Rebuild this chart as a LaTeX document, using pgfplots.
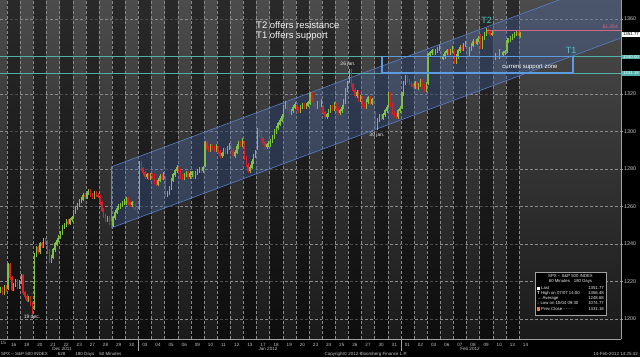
\documentclass[border=0pt]{standalone}
\usepackage{pgfplots}
\pgfplotsset{compat=1.18}
\usepackage{pgfplotstable}
\usepackage{fontspec}
\setmainfont{Liberation Sans}
\definecolor{upc}{HTML}{7DC242}
\definecolor{dnc}{HTML}{D9202A}
\definecolor{teal1}{HTML}{4FB0AC}
\definecolor{tealtxt}{HTML}{4FC8C8}
\definecolor{chan}{HTML}{5A80C8}
\definecolor{chanfill}{HTML}{4A6AB0}
\definecolor{boxb}{HTML}{5B9BE0}
\definecolor{pinkl}{HTML}{D06A88}
\definecolor{txtg}{HTML}{C8C8C8}
\definecolor{axg}{HTML}{A0A0A0}
\definecolor{gridc}{HTML}{8A8A8A}
\definecolor{bgtop}{HTML}{4C4C4C}
\definecolor{bgbot}{HTML}{1A1A1A}
\definecolor{orng}{HTML}{F08020}
\tikzset{vgrid/.style={densely dashed, draw=gridc, line width=0.35pt}}
% rising hourly candles: hour index, open, close
\pgfplotstableread{
h o c
3 1215 1216
5 1214 1217
7 1216.5 1229
10 1216 1218
11 1218 1220
13 1217 1219.7
14 1219.5 1223
18 1210 1211
21 1206 1234
22 1234 1238
24 1236 1240
26 1239 1242
30 1231 1233
31 1233 1237
32 1237 1240
33 1240 1242
34 1242 1243.7
35 1244 1246
36 1246 1249
37 1249 1250
38 1250 1252
40 1251 1253
41 1253 1254
42 1255 1257
43 1257 1259
44 1259 1261
45 1261 1263
46 1263 1264
47 1264 1266
49 1265 1267
50 1267 1268
53 1265 1267
60 1253 1254
63 1250 1254
64 1254 1257
65 1257 1259
66 1259 1260
67 1260 1261
68 1261 1262
69 1262 1263
70 1262 1264
73 1261 1262
77 1259 1283
81 1276 1277
83 1275 1277
87 1272 1274
88 1274 1276
90 1275 1277.3
92 1266 1267
93 1267 1270
94 1270 1274
95 1274 1277
96 1277 1279
97 1279 1281
101 1275 1277
102 1277 1278
104 1276 1277.8
105 1277 1278
107 1276 1278
108 1278 1279
109 1279 1280
111 1279 1280.7
112 1282 1294
115 1290 1292
118 1290 1292.1
121 1287 1288
122 1288 1290
124 1289 1291
125 1291 1292.5
128 1287 1289
129 1289 1292
130 1292 1294
132 1293 1295.5
136 1279 1281
137 1281 1284
138 1284 1287
139 1287 1289
140 1291 1301
145 1292 1293
146 1293 1293.7
147 1293 1295
148 1295 1297
149 1297 1300
150 1300 1302
151 1302 1304
152 1304 1306
153 1306 1308
154 1309 1313
155 1313 1315
158 1310 1311
159 1311 1313
160 1313 1314.5
163 1311 1313
164 1313 1314
166 1313 1314
167 1314 1315.4
168 1315 1320
172 1313 1315
174 1314 1316
177 1308 1309
178 1309 1311
179 1311 1313
181 1312 1314.6
184 1310 1311
185 1311 1313
186 1313 1316
187 1316 1322
188 1322 1326
189 1327 1332
193 1319 1321
195 1317 1318.4
198 1313 1316
199 1316 1318
201 1315 1317
204 1302 1306
205 1306 1308
207 1307 1309
208 1309 1311
209 1311 1313
210 1314 1320
215 1308 1311
216 1311 1312.4
217 1313 1320
218 1320 1326
219 1326 1329
224 1324 1326
226 1323 1325
227 1325 1327
230 1322 1325.5
231 1326 1341
232 1341 1342
233 1342 1343
235 1342 1343
236 1343 1344
237 1344 1344.9
239 1339 1340
240 1340 1342
241 1342 1343
243 1342 1343
244 1343 1344.3
246 1337 1340
247 1340 1343
248 1343 1345
250 1344 1346
251 1346 1347
253 1341 1344
254 1344 1346
255 1346 1348
257 1347 1349
258 1349 1350
260 1345 1350
261 1350 1352
262 1352 1354
265 1352 1352.3
267 1339 1341
269 1340 1343
271 1341 1342
272 1342 1342.6
273 1343 1348.5
274 1348.5 1349
275 1349 1350
276 1350 1351
277 1351 1352
278 1352 1352.5
280 1351 1352
}\upcandles
% falling hourly candles
\pgfplotstableread{
h o c
4 1216 1214
6 1217 1215.7
8 1229 1222
9 1222 1216
12 1220 1217
15 1223 1214
16 1214 1212
17 1212 1210
19 1211 1208
20 1208 1204
23 1238 1236
25 1240 1239
27 1242 1241.3
28 1241 1236
29 1236 1231
39 1252 1251
48 1266 1265.3
51 1268 1266
52 1266 1265
54 1267 1266
55 1266 1265.4
56 1265 1262
57 1262 1258
58 1258 1255
59 1255 1253
61 1254 1251
62 1251 1249.6
71 1264 1262
72 1262 1261
74 1262 1260
75 1260 1259
76 1259 1257.6
78 1283 1280
79 1280 1278
80 1278 1276
82 1277 1275
84 1277 1276
85 1276 1273
86 1273 1272
89 1276 1275
91 1275 1266
98 1280 1279
99 1279 1276
100 1276 1275
103 1278 1276
106 1278 1276
110 1280 1279
113 1294 1291
114 1291 1290
116 1292 1291
117 1291 1290
119 1291 1289
120 1289 1287
123 1290 1289
126 1292 1290
127 1290 1287
131 1294 1293
133 1294 1286
134 1286 1282
135 1282 1279
141 1301 1298
142 1298 1296
143 1296 1294
144 1294 1292
156 1315 1312
157 1312 1310
161 1314 1312
162 1312 1311
165 1314 1313
169 1320 1317
170 1317 1314
171 1314 1313
173 1315 1314
175 1313 1310
176 1310 1308
180 1313 1312
182 1314 1312
183 1312 1310
190 1332 1325
191 1325 1322
192 1322 1319
194 1321 1317
196 1318 1314
197 1314 1313
200 1318 1315
202 1317 1316.3
203 1310 1302
206 1308 1307
211 1320 1314
212 1314 1310
213 1310 1309
214 1309 1308
220 1329 1327
221 1327 1326
222 1326 1325
223 1325 1324
225 1326 1323
228 1327 1324
229 1324 1322
234 1343 1342
238 1344 1339
242 1343 1342
245 1343 1337
249 1345 1344
252 1346 1341
256 1348 1347
259 1351 1345
263 1354 1353
264 1353 1352
266 1351 1339
268 1341 1340
270 1343 1341
279 1352.5 1351.8
}\dncandles
\begin{document}
\begin{tikzpicture}[x=1pt,y=1pt]
\useasboundingbox (0,0) rectangle (640,357);
\fill[black] (0,0) rectangle (640,357);
\begin{axis}[
  at={(0pt,357pt)}, anchor=north west,
  scale only axis, width=621pt, height=339pt,
  xmin=2.733, xmax=333.93, ymin=1189.33, ymax=1370.13,
  axis x line*=bottom, axis y line*=right,
  axis line style={draw=axg, line width=0.6pt, -},
  axis background/.style={top color=bgtop, bottom color=bgbot},
  ytick={1200,1220,...,1320,1360},
  extra y ticks={1340}, extra y tick labels={},
  yticklabel pos=right,
  ytick style={draw=axg, line width=0.5pt},
  major tick length=2pt, tick align=outside,
  yticklabel style={font=\fontsize{5.4}{6}\selectfont, text=txtg, inner sep=0pt, anchor=west, xshift=1pt},
  /pgf/number format/1000 sep={},
  /pgf/number format/assume math mode=true,
  xtick={10,17,...,283},
  xticklabels={16,19,20,21,22,23,27,28,29,30,03,04,05,06,09,10,11,12,13,17,18,19,20,23,24,25,26,27,30,31,01,02,03,06,07,08,09,10,13,14},
  xtick style={draw=none},
  xticklabel style={font=\fontsize{4.6}{5}\selectfont, text=txtg, inner sep=0pt, anchor=north, yshift=-2pt},
  ymajorgrids, grid style={densely dashed, draw=gridc, line width=0.35pt},
  clip=true,
]
% alternating day bands
\foreach \d in {1,3,...,39} {
  \pgfmathsetmacro\xa{7*\d-0.5}
  \pgfmathsetmacro\xb{7*\d+6.5}
  \edef\temp{\noexpand\fill[black,opacity=0.45] (axis cs:\xa,1189.33) rectangle (axis cs:\xb,1370.13);}
  \temp
}
\foreach \d in {1,...,40} {
  \pgfmathsetmacro\xa{7*\d-0.5}
  \edef\temp{\noexpand\draw[vgrid] (axis cs:\xa,1189.33) -- (axis cs:\xa,1370.13);}
  \temp
}
% channel
\fill[chanfill, fill opacity=0.32] (axis cs:61.93,1281.07) -- (axis cs:333.93,1382.45) -- (axis cs:333.93,1349.9) -- (axis cs:61.93,1248.53) -- cycle;
\draw[chan, line width=0.6pt] (axis cs:61.93,1281.07) -- (axis cs:333.93,1382.45);
\draw[chan, line width=0.6pt] (axis cs:61.93,1248.53) -- (axis cs:333.93,1349.9);
\draw[chan, line width=0.6pt] (axis cs:61.93,1248.53) -- (axis cs:61.93,1281.07);
% horizontal levels
\draw[teal1, line width=0.7pt] (axis cs:2.733,1340) -- (axis cs:333.93,1340);
\draw[teal1, line width=0.7pt] (axis cs:2.733,1331.18) -- (axis cs:333.93,1331.18);
% candle wicks
\addplot[draw=upc, line width=0.5pt, mark=none, -,
  quiver={u=0, v=\thisrow{c}-\thisrow{o}+2.2}]
  table[x=h, y expr=\thisrow{o}-1.1] {\upcandles};
\addplot[draw=dnc, line width=0.5pt, mark=none, -,
  quiver={u=0, v=\thisrow{c}-\thisrow{o}-2.2}]
  table[x=h, y expr=\thisrow{o}+1.1] {\dncandles};
% candle bodies
\addplot[draw=upc, line width=1.2pt, line cap=rect, mark=none, -,
  quiver={u=0, v=\thisrow{c}-\thisrow{o}}]
  table[x=h, y=o] {\upcandles};
\addplot[draw=dnc, line width=1.2pt, line cap=rect, mark=none, -,
  quiver={u=0, v=\thisrow{c}-\thisrow{o}}]
  table[x=h, y=o] {\dncandles};
% support zone box and resistance
\draw[boxb, line width=1.6pt] (axis cs:206.47,1340) rectangle (axis cs:308.33,1331.18);
\draw[pinkl, line width=0.7pt] (axis cs:262.5,1354.1) -- (axis cs:333.93,1354.1);
\end{axis}
\node[anchor=north west, text=txtg, font=\fontsize{4.6}{5}\selectfont, inner sep=0pt] at (0.5,16) {15};
% annotations
\node[anchor=west, text=white!90!gray, font=\fontsize{9.5}{11}\selectfont, inner sep=0pt] at (256,332) {T2 offers resistance};
\node[anchor=west, text=white!90!gray, font=\fontsize{9.5}{11}\selectfont, inner sep=0pt] at (256,321) {T1 offers support};
\node[text=tealtxt, font=\fontsize{9}{10}\selectfont, inner sep=0pt] at (486.5,336.3) {T2};
\node[text=tealtxt, font=\fontsize{9}{10}\selectfont, inner sep=0pt] at (571,307) {T1};
\node[text=white, font=\fontsize{6}{7}\selectfont, inner sep=0pt] at (530,290.3) {current support zone};
\node[text=white!85!gray, font=\fontsize{5}{6}\selectfont, inner sep=0pt] at (348,293) {26 jan.};
\node[text=white!85!gray, font=\fontsize{5}{6}\selectfont, inner sep=0pt] at (377,222) {30 jan.};
\node[text=white!85!gray, font=\fontsize{5}{6}\selectfont, inner sep=0pt] at (32,40.3) {19 dec.};
\node[anchor=east, text=pinkl, font=\fontsize{5}{6}\selectfont, inner sep=0pt] at (618,330.5) {\$1,354};
% right value boxes
\node[anchor=west, fill=white, text=black, font=\fontsize{4.4}{5}\selectfont, inner sep=0.7pt, minimum width=18.5pt] at (621.5,322.6) {1351.77};
\node[anchor=west, fill=teal1, text=white, font=\fontsize{4.4}{5}\selectfont, inner sep=0.7pt, minimum width=18.5pt] at (621.5,299.8) {1340.00};
\node[anchor=west, fill=teal1, text=white, font=\fontsize{4.4}{5}\selectfont, inner sep=0.7pt, minimum width=18.5pt] at (621.5,283.7) {1331.18};
% month labels and separators
\draw[axg, line width=0.6pt] (138.3,18) -- (138.3,6);
\draw[axg, line width=0.6pt] (400.8,18) -- (400.8,6);
\node[text=txtg, font=\fontsize{4.6}{5}\selectfont, inner sep=0pt] at (62,8) {Dec 2011};
\node[text=txtg, font=\fontsize{4.6}{5}\selectfont, inner sep=0pt] at (268,8) {Jan 2012};
\node[text=txtg, font=\fontsize{4.6}{5}\selectfont, inner sep=0pt] at (470,8) {Feb 2012};
% footer
\node[anchor=west, text=txtg, font=\fontsize{4.5}{5}\selectfont, inner sep=0pt] at (1,3) {SPX -- S\&P 500 INDEX\hspace{10pt}628\hspace{10pt}180 Days\hspace{5pt}60 Minutes};
\node[text=txtg, font=\fontsize{4.5}{5}\selectfont, inner sep=0pt] at (366,3) {Copyright\textcopyright{} 2012 Bloomberg Finance L.P.};
\node[anchor=east, text=txtg, font=\fontsize{4.5}{5}\selectfont, inner sep=0pt] at (638,3) {14-Feb-2012 14:25:42};
% legend box
\draw[axg, line width=0.6pt, fill=black] (535,42) rectangle (606,85);
\begin{scope}[every node/.style={text=white!90!gray, font=\fontsize{4.3}{5}\selectfont, inner sep=0pt}]
\node at (570.5,80.5) {SPX -- S\&P 500 INDEX};
\node at (570.5,75.5) {60 Minutes\hspace{4pt}180 Days};
\fill[white] (537,67.3) rectangle (540.2,70.5);
\node[anchor=west] at (541,69) {Last};
\node[anchor=east] at (604,69) {1351.77};
\node[anchor=west] at (537,64) {\textbf{T} High on 07/07 14:00};
\node[anchor=east] at (604,64) {1356.48};
\node[anchor=west] at (537,59) {→ Average};
\node[anchor=east] at (604,59) {1248.68};
\node[anchor=west] at (537,54) {↓ Low on 10/04 09:30};
\node[anchor=east] at (604,54) {1074.77};
\fill[orng] (537,46.4) rectangle (540.2,49.6);
\node[anchor=west] at (541,48) {Prev Close - - - -};
\node[anchor=east] at (604,48) {1331.18};
\end{scope}
\end{tikzpicture}
\end{document}
